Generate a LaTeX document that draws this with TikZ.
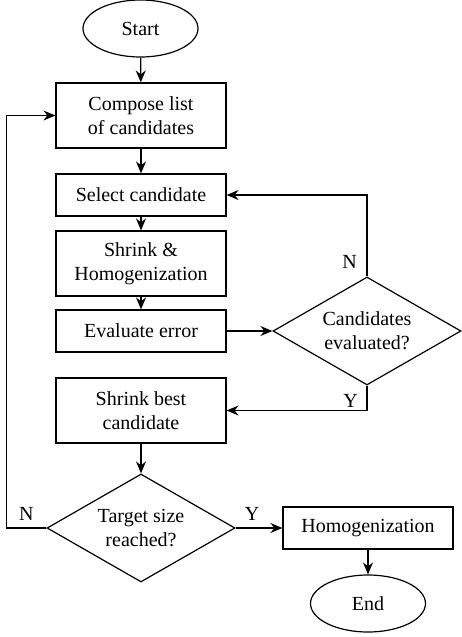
\documentclass[tikz,border=0pt]{standalone}
\usepackage{fontspec}
\setmainfont{Liberation Serif}
\usetikzlibrary{shapes.geometric,arrows.meta}

\tikzset{
	process/.style={draw, rectangle, align=center, minimum width=85pt, minimum height=21pt, inner sep=2pt},
	terminal/.style={draw, ellipse, minimum width=57.5pt, minimum height=28.5pt, inner sep=1pt},
	decision/.style={draw, diamond, aspect=1.74, align=center, minimum width=94pt, minimum height=54pt, inner sep=0pt},
	flow/.style={-{Stealth[length=6pt,width=5pt,inset=2pt]}, line width=0.6pt}
}

\begin{document}
\begin{tikzpicture}[x=0.5pt, y=-0.5pt, line width=0.6pt, font=\fontsize{10}{12}\selectfont]
		\useasboundingbox (0,0) rectangle (461,637);
		
		% main column
		\node[terminal] (start) at (140.5,28.5) {Start};
		\node[process, minimum height=32.5pt] (compose) at (141,115.5) {Compose list\\of candidates};
		\node[process] (select) at (141,195) {Select candidate};
		\node[process, minimum height=32.5pt] (shrink) at (141,263.5) {Shrink \&\\Homogenization};
		\node[process] (evaluate) at (141,331) {Evaluate error};
		\node[process, minimum height=32.5pt] (best) at (141,410.5) {Shrink best\\candidate};
		\node[decision] (target) at (141,528) {Target size\\reached?};
		
		% right column
		\node[decision] (evaluated) at (367,331) {Candidates\\evaluated?};
		\node[process] (homog) at (368,528) {Homogenization};
		\node[terminal] (stop) at (368,603.5) {End};
		
		\foreach \a/\b in {start/compose, compose/select, select/shrink, shrink/evaluate, evaluate/evaluated, best/target, homog/stop}{
			\draw[flow] (\a) -- (\b);
		}
		
		\draw[flow] (evaluated.north) |- node[pos=0.09, left=1.5pt]{N} (select.east);
		\draw[flow] (evaluated.south) |- node[pos=0.3, left=1pt]{Y} (best.east);
		\draw[flow] (target.west) -- node[midway, above]{N} ++(-40,0) |- (compose.west);
		\draw[flow] (target.east) -- node[pos=0.35, above]{Y} (homog.west);
\end{tikzpicture}
\end{document}
